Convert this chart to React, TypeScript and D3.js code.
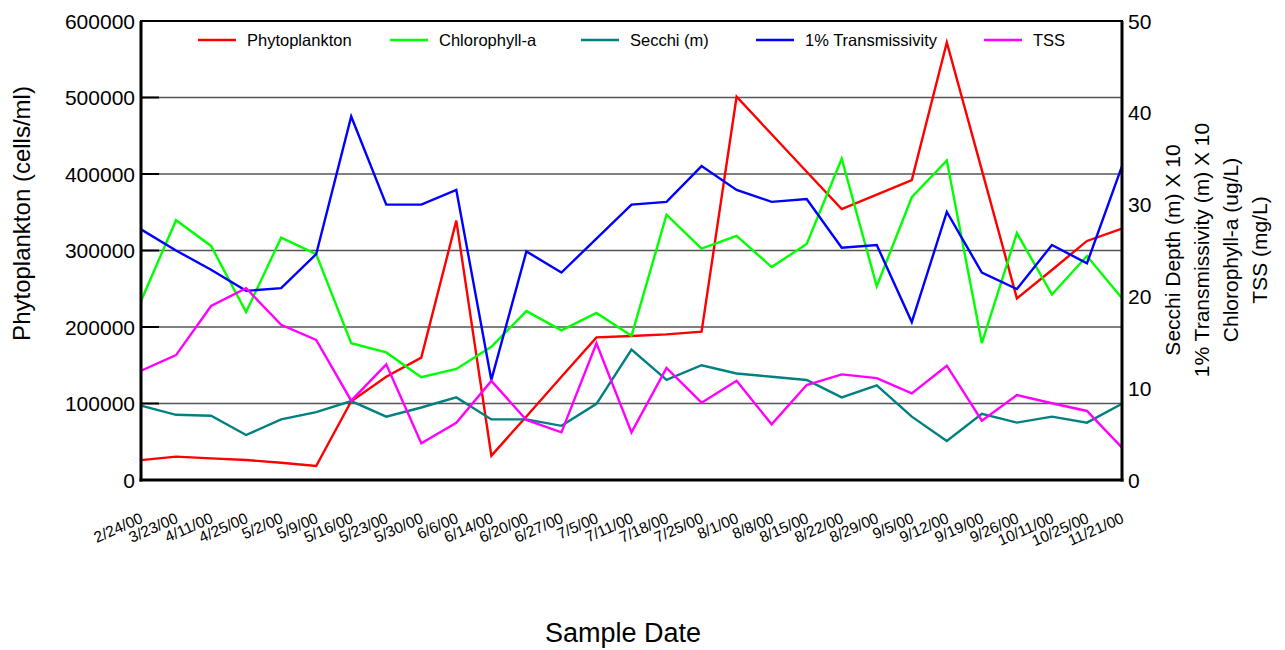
import React from "react";
import * as d3 from "d3";

const sampleDates = [
  "2/24/00", "3/23/00", "4/11/00", "4/25/00", "5/2/00", "5/9/00", "5/16/00", "5/23/00",
  "5/30/00", "6/6/00", "6/14/00", "6/20/00", "6/27/00", "7/5/00", "7/11/00", "7/18/00",
  "7/25/00", "8/1/00", "8/8/00", "8/15/00", "8/22/00", "8/29/00", "9/5/00", "9/12/00",
  "9/19/00", "9/26/00", "10/11/00", "10/25/00", "11/21/00",
];

// cells/ml, left axis
const phytoplankton = [
  26000, 30500, 28300, 26100, 22600, 18300, 103000, 135000,
  160000, 339000, 31800, 83000, 135000, 186500, 188200, 190400,
  193900, 501000, 452000, 403000, 354000, 373000, 392000, 572000,
  405000, 237500, 274500, 312500, 328600,
];

// right axis series
const chlorophyll = [
  19.5, 28.3, 25.5, 18.3, 26.4, 24.6, 14.9, 13.9,
  11.2, 12.1, 14.5, 18.4, 16.3, 18.2, 15.7, 28.9,
  25.2, 26.6, 23.2, 25.7, 35.0, 21.1, 30.8, 34.8,
  14.9, 26.9, 20.2, 24.4, 19.8,
];

const secchi = [
  8.1, 7.1, 7.0, 4.9, 6.6, 7.4, 8.6, 6.9,
  7.9, 9.0, 6.6, 6.6, 5.9, 8.3, 14.2, 10.9,
  12.5, 11.6, 11.25, 10.9, 9.0, 10.3, 6.9, 4.25,
  7.2, 6.25, 6.9, 6.25, 8.3,
];

const transmissivity = [
  27.3, 25.0, 22.9, 20.6, 20.9, 24.6, 39.6, 30.0,
  30.0, 31.6, 10.9, 24.9, 22.6, 26.3, 30.0, 30.3,
  34.2, 31.6, 30.3, 30.6, 25.3, 25.6, 17.2, 29.2,
  22.6, 20.8, 25.6, 23.6, 34.2,
];

const tss = [
  11.9, 13.6, 18.95, 20.9, 16.9, 15.25, 8.64, 12.6,
  4.0, 6.24, 10.8, 6.54, 5.19, 14.9, 5.19, 12.2,
  8.42, 10.8, 6.06, 10.35, 11.5, 11.1, 9.44, 12.45,
  6.46, 9.26, 8.36, 7.52, 3.52,
];

const leftTicks = [0, 100000, 200000, 300000, 400000, 500000, 600000];
const rightTicks = [0, 10, 20, 30, 40, 50];

const rightTitleLines = [
  "Secchi Depth (m) X 10",
  "1% Transmissivity (m) X 10",
  "Chlorophyll-a (ug/L)",
  "TSS (mg/L)",
];

const FONT = "'Liberation Sans', Arial, Helvetica, sans-serif";

const W = 1285;
const H = 650;
const plot = { left: 141, right: 1122, top: 21, bottom: 480 };

export default function App() {
  const x = d3
    .scalePoint<string>()
    .domain(sampleDates)
    .range([plot.left, plot.right])
    .padding(0);
  const yLeft = d3.scaleLinear().domain([0, 600000]).range([plot.bottom, plot.top]);
  const yRight = d3.scaleLinear().domain([0, 50]).range([plot.bottom, plot.top]);

  const lineLeft = d3
    .line<number>()
    .x((_, i) => x(sampleDates[i]) as number)
    .y((d) => yLeft(d));
  const lineRight = d3
    .line<number>()
    .x((_, i) => x(sampleDates[i]) as number)
    .y((d) => yRight(d));

  const series = [
    { name: "Phytoplankton", color: "#ff0000", d: lineLeft(phytoplankton) },
    { name: "Chlorophyll-a", color: "#00ff00", d: lineRight(chlorophyll) },
    { name: "Secchi (m)", color: "#008080", d: lineRight(secchi) },
    { name: "1% Transmissivity", color: "#0000ff", d: lineRight(transmissivity) },
    { name: "TSS", color: "#ff00ff", d: lineRight(tss) },
  ];

  const legendX = [198, 390, 581, 756, 984];

  return (
    <svg
      width={W}
      height={H}
      style={{ position: "absolute", left: 0, top: 0, background: "#fff" }}
      fontFamily={FONT}
    >
      {/* horizontal grid */}
      {leftTicks
        .filter((t) => t > 0 && t < 600000)
        .map((t) => (
          <g key={t}>
            <line
              x1={plot.left}
              x2={plot.right}
              y1={yLeft(t)}
              y2={yLeft(t)}
              stroke="#555"
              strokeWidth={1.3}
            />
            <line
              x1={plot.left}
              x2={plot.left + 18}
              y1={yLeft(t)}
              y2={yLeft(t)}
              stroke="#000"
              strokeWidth={2}
            />
          </g>
        ))}

      {/* data lines */}
      {series.map((s) => (
        <path
          key={s.name}
          d={s.d || ""}
          fill="none"
          stroke={s.color}
          strokeWidth={2.4}
          strokeLinejoin="miter"
        />
      ))}

      {/* frame */}
      <rect
        x={plot.left}
        y={plot.top}
        width={plot.right - plot.left}
        height={plot.bottom - plot.top}
        fill="none"
        stroke="#000"
        strokeWidth={2}
      />
      <line x1={plot.left} x2={plot.left} y1={plot.top} y2={plot.bottom + 1.5} stroke="#000" strokeWidth={3} />
      <line x1={plot.right} x2={plot.right} y1={plot.top} y2={plot.bottom + 1.5} stroke="#000" strokeWidth={3} />
      <line x1={plot.left - 1.5} x2={plot.right + 1.5} y1={plot.bottom} y2={plot.bottom} stroke="#000" strokeWidth={3} />

      {/* left axis labels */}
      {leftTicks.map((t) => (
        <text
          key={t}
          x={plot.left - 6}
          y={yLeft(t)}
          dy="0.36em"
          textAnchor="end"
          fontSize={21}
          fill="#000"
        >
          {t}
        </text>
      ))}

      {/* right axis labels */}
      {rightTicks.map((t) => (
        <text
          key={t}
          x={plot.right + 6}
          y={yRight(t)}
          dy="0.36em"
          textAnchor="start"
          fontSize={21}
          fill="#000"
        >
          {t}
        </text>
      ))}

      {/* x labels */}
      {sampleDates.map((d) => (
        <text
          key={d}
          transform={`translate(${(x(d) as number) + 3},522) rotate(-24)`}
          textAnchor="end"
          fontSize={15.5}
          fill="#000"
        >
          {d}
        </text>
      ))}

      {/* axis titles */}
      <text
        transform={`translate(30,${(plot.top + plot.bottom) / 2 - 37}) rotate(-90)`}
        textAnchor="middle"
        fontSize={24}
        fill="#000"
      >
        Phytoplankton (cells/ml)
      </text>
      {rightTitleLines.map((line, i) => (
        <text
          key={line}
          transform={`translate(${1180 + i * 29},250) rotate(-90)`}
          textAnchor="middle"
          fontSize={21}
          fill="#000"
        >
          {line}
        </text>
      ))}
      <text x={623} y={642} textAnchor="middle" fontSize={27} fill="#000">
        Sample Date
      </text>

      {/* legend */}
      {series.map((s, i) => (
        <g key={s.name} transform={`translate(${legendX[i]},40)`}>
          <line x1={0} x2={38} y1={0} y2={0} stroke={s.color} strokeWidth={2.5} />
          <text x={49} y={0} dy="0.35em" fontSize={16.5} fill="#000">
            {s.name}
          </text>
        </g>
      ))}
    </svg>
  );
}
